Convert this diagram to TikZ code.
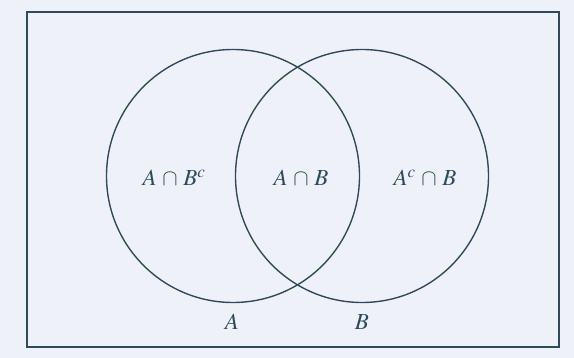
\documentclass[tikz,border=0pt]{standalone}
\usepackage{amsmath}
\usepackage{mathptmx}
\usepackage{tikz}
\usetikzlibrary{positioning,calc}
\usepackage{xcolor}
\definecolor{ink}{HTML}{2F4B5A}
\definecolor{paper}{HTML}{EEF2F8}
\newcommand{\meet}{\,\cap\,}

\begin{document}
\begin{tikzpicture}[
  x=1pt, y=-1pt,
  font=\fontsize{23}{27}\selectfont,
  set/.style={circle, draw=ink, line width=1.4pt, minimum size=253pt, inner sep=0pt},
  region/.style={text=ink, inner sep=1pt},
  setname/.style={text=ink, inner sep=1pt}
]
% page and universe
\fill[paper] (0,0) rectangle (574,358);
\useasboundingbox (0,0) rectangle (574,358);
\node[draw=ink, line width=1.5pt, minimum width=532pt, minimum height=335pt, inner sep=0pt] (U) at (293,179.5) {};

% the two sets
\node[set] (cA) at (233,176) {};
\node[set] (cB) at (362,176) {};

% regions
\node[region] (onlyA) at (174,178) {$A\meet B^{c}$};
\node[region] (both)  at (301,178) {$A\meet B$};
\node[region] (onlyB) at (425,178) {$A^{c}\meet B$};

% names
\node[setname] (nA) at (232,322) {$A$};
\node[setname] (nB) at (362,322) {$B$};
\end{tikzpicture}
\end{document}
